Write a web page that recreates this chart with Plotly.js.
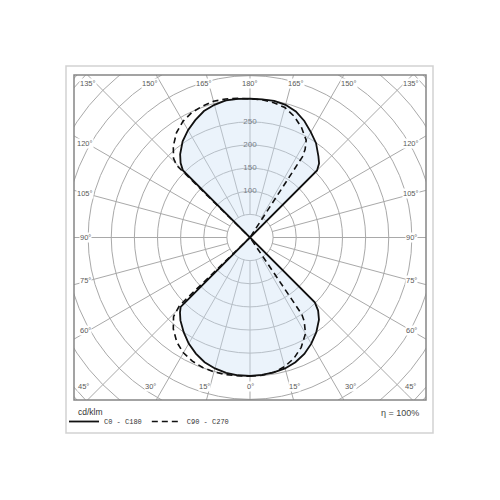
<!DOCTYPE html>
<html><head><meta charset="utf-8">
<script src="https://cdn.plot.ly/plotly-3.0.1.min.js"></script>
<style>html,body{margin:0;padding:0;background:#fff}#chart{width:500px;height:500px}</style>
</head><body><div id="chart"></div>
<script>
// Gamma angles (degrees from nadir) and luminous intensities (cd/klm)
const c0Gamma    = [0,5,10,15,20,25,30,35,40,43,45,46, 134,135,137,140,145,150,155,160,165,170,175,180];
const c0Values   = [299,298,296,293,287,278,265,250,232,216,198,0, 0,205,219,230,249,263,278,290,297,300,300,300];
const c180Gamma  = [0,5,10,15,20,25,30,35,40,43,45,46, 134,135,137,140,145,150,155,160,165,170,175,180];
const c180Values = [299,299,297,293,287,277,265,250,234,222,212,0, 0,205,220,235,254,268,280,291,297,301,301,300];
const c90Gamma   = [0,5,10,15,20,25,30,33,34,35, 146,147,148,150,155,160,165,170,175,180];
const c90Values  = [300,299,296,289,278,262,240,215,200,0, 0,208,225,243,263,279,291,296,299,300];
const c270Gamma  = [0,5,10,15,20,25,30,35,40,44,46,47, 134,134.5,136,140,145,150,155,160,165,170,175,180];
const c270Values = [300,300,301,301,299,295,288,276,258,238,212,0, 0,222,238,258,277,290,298,302,305,304,302,300];

const seriesNames  = ['C0 - C180', 'C90 - C270'];
const radialTicks  = [100, 150, 200, 250];
const topLabels    = ['135°','150°','165°','180°','165°','150°','135°'];
const sideLabels   = ['120°','105°','90°','75°','60°'];
const bottomLabels = ['45°','30°','15°','0°','15°','30°','45°'];
const unitLabel    = 'cd/klm';
const efficiency   = 'η = 100%';

// right half: theta = gamma ; left half: theta = 360 - gamma
function buildCurve(rg, rv, lg, lv) {
  const theta = rg.concat(lg.slice().reverse().map(g => 360 - g));
  const r = rv.concat(lv.slice().reverse());
  return {theta, r};
}
const solid = buildCurve(c0Gamma, c0Values, c180Gamma, c180Values);
const dashed = buildCurve(c90Gamma, c90Values, c270Gamma, c270Values);

const traces = [
  {type:'scatterpolar', subplot:'polar2', mode:'lines', r:solid.r, theta:solid.theta,
   fill:'toself', fillcolor:'rgba(205,226,246,0.40)', line:{width:0, color:'rgba(0,0,0,0)'},
   showlegend:false, hoverinfo:'skip'},
  {type:'scatterpolar', subplot:'polar', mode:'text', r:radialTicks,
   theta:radialTicks.map(() => 180), text:radialTicks.map(String),
   textfont:{family:'Liberation Sans, Arial, sans-serif', size:8, color:'#3a3a3a'},
   showlegend:false, hoverinfo:'skip', cliponaxis:false},
  {type:'scatterpolar', subplot:'polar2', mode:'lines', name:seriesNames[0],
   r:solid.r, theta:solid.theta, line:{color:'#111', width:1.8}},
  {type:'scatterpolar', subplot:'polar2', mode:'lines', name:seriesNames[1],
   r:dashed.r, theta:dashed.theta, line:{color:'#111', width:1.6, dash:'6px,4px'}}
];

const scale = 0.4625; // px per cd/klm
const R = 237.5;      // polar radius in px
const rMax = R / scale;
const holeR = 50;

const polarDomain = {x:[0.025, 0.975], y:[0.05, 1.0]};
const gridColor = '#a9a9a9';

const px = v => v / 500;
const py = v => 1 - v / 500;

const annFont = {family:'Liberation Sans, Arial, sans-serif', size:7.5, color:'#5a5a5a'};
const annotations = [];
const topX = [88,150,204,250,296,349,411];
topLabels.forEach((t,i) => annotations.push({text:t, x:px(topX[i]), y:py(83)}));
const sideY = [143,193,237,280,330];
sideLabels.forEach((t,i) => {
  annotations.push({text:t, x:px(85), y:py(sideY[i])});
  annotations.push({text:t, x:px(411), y:py(sideY[i])});
});
const bottomX = [83,150,204,250,294,350,410];
bottomLabels.forEach((t,i) => annotations.push({text:t, x:px(bottomX[i]), y:py(386)}));
annotations.forEach(a => Object.assign(a, {xref:'paper', yref:'paper', showarrow:false,
  xanchor:'center', yanchor:'middle', font:annFont, bgcolor:'#ffffff', borderpad:0}));
annotations.push({text:efficiency, xref:'paper', yref:'paper', x:px(421), y:py(413),
  xanchor:'right', yanchor:'middle', showarrow:false,
  font:{family:'Liberation Sans, Arial, sans-serif', size:9, color:'#444'}});
annotations.push({text:unitLabel, xref:'paper', yref:'paper', x:px(76), y:py(412),
  xanchor:'left', yanchor:'middle', showarrow:false,
  font:{family:'Liberation Sans, Arial, sans-serif', size:8.5, color:'#333'}});

const frame = {x0:74, x1:426, y0:75, y1:400};
const white = {type:'rect', xref:'paper', yref:'paper', layer:'above', fillcolor:'#ffffff', line:{width:0}};
const shapes = [
  Object.assign({}, white, {x0:0, x1:1, y0:py(frame.y0), y1:1.05}),
  Object.assign({}, white, {x0:0, x1:1, y0:-0.05, y1:py(frame.y1)}),
  Object.assign({}, white, {x0:-0.05, x1:px(frame.x0), y0:0, y1:1}),
  Object.assign({}, white, {x0:px(frame.x1), x1:1.05, y0:0, y1:1}),
  {type:'rect', xref:'paper', yref:'paper', layer:'above', x0:px(frame.x0), x1:px(frame.x1),
   y0:py(frame.y1), y1:py(frame.y0), line:{color:'#858585', width:1.5}},
  {type:'rect', xref:'paper', yref:'paper', layer:'above', x0:px(66), x1:px(433),
   y0:py(433), y1:py(66), line:{color:'#d2d2d2', width:1.5}}
];

const layout = {
  width:500, height:500, margin:{l:0,r:0,t:0,b:0},
  paper_bgcolor:'#ffffff', showlegend:true,
  polar:{
    domain:polarDomain, bgcolor:'#ffffff', hole: holeR / rMax,
    radialaxis:{range:[holeR, rMax], autorange:false, tickmode:'linear', tick0:0, dtick:50,
      showticklabels:false, ticks:'', showline:false, gridcolor:gridColor, gridwidth:1},
    angularaxis:{rotation:-90, direction:'counterclockwise', tickmode:'linear', tick0:0, dtick:15,
      showticklabels:false, ticks:'', showline:true, linecolor:gridColor, linewidth:1,
      gridcolor:gridColor, gridwidth:1}
  },
  polar2:{
    domain:polarDomain, bgcolor:'rgba(0,0,0,0)',
    radialaxis:{range:[0, rMax], autorange:false, visible:false},
    angularaxis:{rotation:-90, direction:'counterclockwise', visible:false}
  },
  legend:{orientation:'h', x:px(64), y:py(407), xanchor:'left', yanchor:'top',
    bgcolor:'rgba(0,0,0,0)', itemwidth:30, tracegroupgap:0,
    font:{family:'Liberation Mono, DejaVu Sans Mono, monospace', size:7, color:'#333'}},
  annotations, shapes
};

Plotly.newPlot('chart', traces, layout, {staticPlot:true, displayModeBar:false});
</script>
</body></html>
